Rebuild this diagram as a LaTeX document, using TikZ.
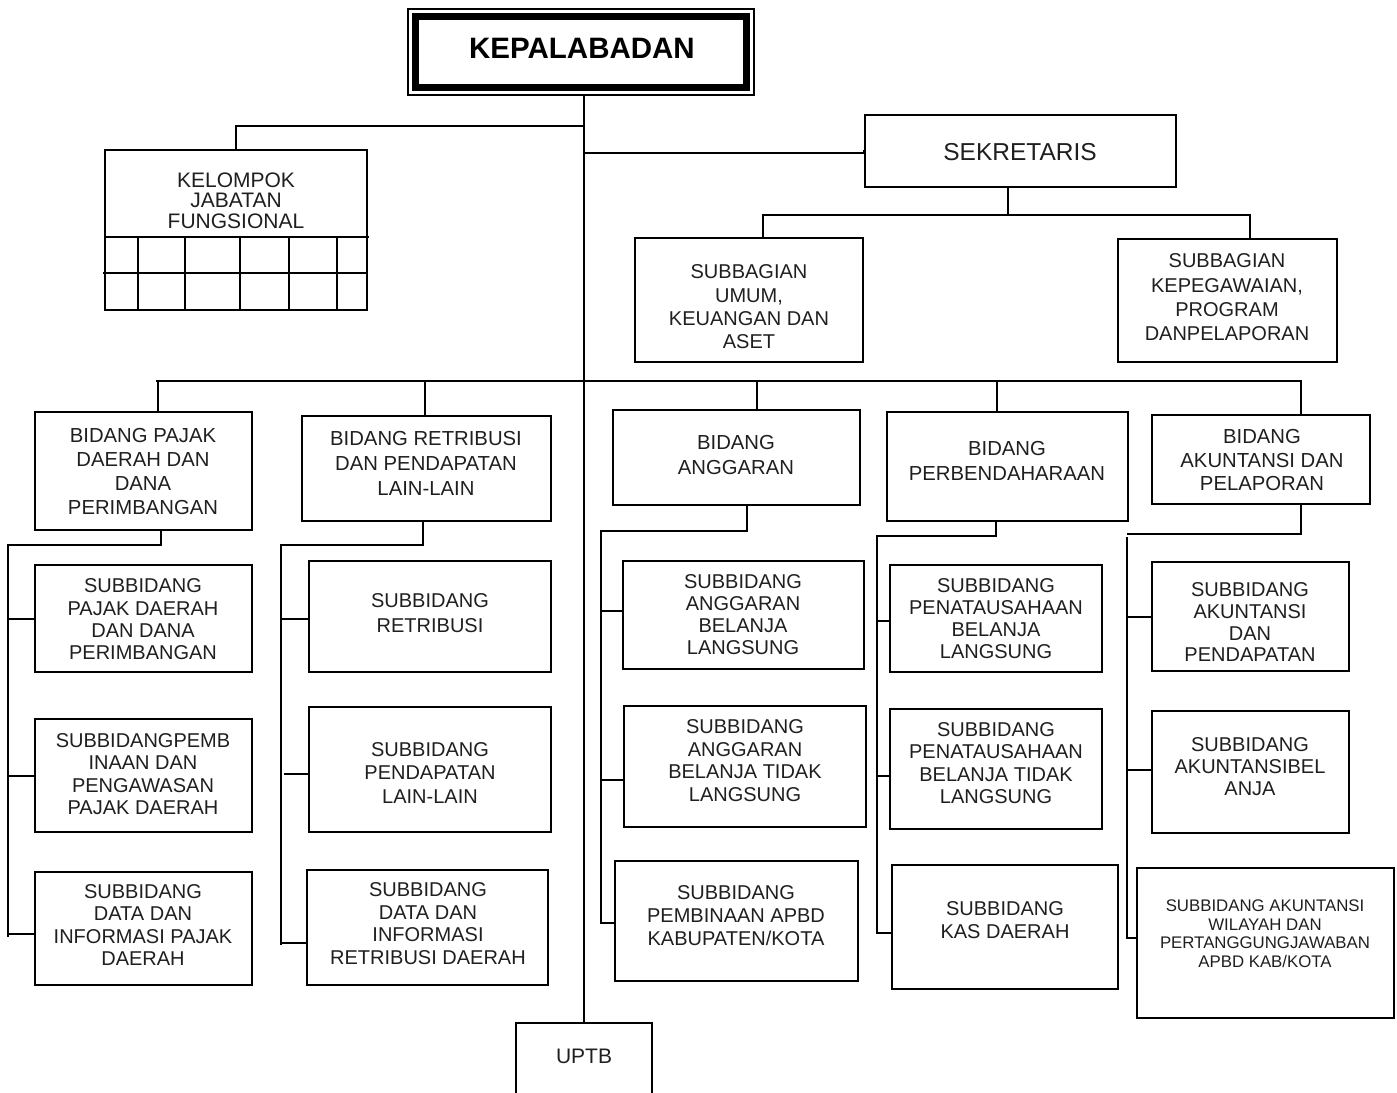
\documentclass[tikz,border=0pt]{standalone}
\usepackage{fontspec}
\setmainfont{Liberation Sans}
\tikzset{
  bx/.style={draw, line width=2pt, inner sep=0pt, rectangle},
  lbl/.style={align=center, inner sep=0pt, text=black!88},
  conn/.style={line width=2pt, line cap=rect},
}
% box: name, x1, y1, x2, y2
\newcommand\bx[5]{\node[bx, minimum width={(#4-#2)*1pt}, minimum height={(#5-#3)*1pt}] (#1) at ({(#2+#4)/2},{(#3+#5)/2}) {};}
% label: name, x, y, font+spacing, text
\newcommand\lb[5]{\node[lbl, font={#4}] (#1) at (#2,#3) {#5};}
\newcommand\fs[2]{\fontsize{#1}{#2}\selectfont}
\begin{document}
\begin{tikzpicture}[x=1pt,y=-1pt]
\useasboundingbox (0,0) rectangle (1397,1092);

% ---- top ----
\node[draw, line width=1.5pt, inner sep=0pt, minimum width=346pt, minimum height=86pt] (kepala) at (581,52) {};
\draw[line width=7pt] ([shift={(8,8)}]kepala.north west) rectangle ([shift={(-8,-8)}]kepala.south east);
\node[align=center, inner sep=0pt, font=\fs{29.5}{31}\bfseries] (lkepala) at (582,48) {KEPALABADAN};

\bx{kel}{105}{150}{367}{310}
\lb{lkel}{236}{200.5}{\fs{21}{20.5}}{KELOMPOK\\JABATAN\\FUNGSIONAL}
\draw[line width=1.6pt] (105,237) -- (369,237);
\draw[line width=1.6pt] (103,273) -- (367,273);
\foreach \gx in {138,185,240,289,337} \draw[line width=1.6pt] (\gx,237) -- (\gx,310);

\bx{sek}{865}{115}{1176}{187}
\lb{lsek}{1020}{152}{\fs{24.5}{26}}{SEKRETARIS}

\bx{sbu}{635}{238}{863}{362}
\lb{lsbu}{749}{307}{\fs{20}{23.3}}{SUBBAGIAN\\UMUM,\\KEUANGAN DAN\\ASET}
\bx{sbk}{1118}{239}{1337}{362}
\lb{lsbk}{1227}{297.5}{\fs{20}{24.3}}{SUBBAGIAN\\KEPEGAWAIAN,\\PROGRAM\\DANPELAPORAN}

% ---- bidang ----
\bx{b1}{35}{412}{252}{530}
\lb{lb1}{143}{471.5}{\fs{20.3}{23.7}}{BIDANG PAJAK\\DAERAH DAN\\DANA\\PERIMBANGAN}
\bx{b2}{302}{416}{551}{521}
\lb{lb2}{426}{463}{\fs{20.3}{25}}{BIDANG RETRIBUSI\\DAN PENDAPATAN\\LAIN-LAIN}
\bx{b3}{613}{410}{860}{505}
\lb{lb3}{736}{455.5}{\fs{20.3}{25}}{BIDANG\\ANGGARAN}
\bx{b4}{887}{412}{1128}{521}
\lb{lb4}{1007}{460.5}{\fs{20.3}{25}}{BIDANG\\PERBENDAHARAAN}
\bx{b5}{1152}{415}{1370}{504}
\lb{lb5}{1262}{460.5}{\fs{20.3}{23.5}}{BIDANG\\AKUNTANSI DAN\\PELAPORAN}

% ---- subbidang ----
\bx{s11}{35}{565}{252}{672}
\lb{ls11}{143}{619.3}{\fs{20}{22.3}}{SUBBIDANG\\PAJAK DAERAH\\DAN DANA\\PERIMBANGAN}
\bx{s12}{35}{719}{252}{832}
\lb{ls12}{143}{774}{\fs{20}{22.3}}{SUBBIDANGPEMB\\INAAN DAN\\PENGAWASAN\\PAJAK DAERAH}
\bx{s13}{35}{872}{252}{985}
\lb{ls13}{143}{925}{\fs{20}{22.3}}{SUBBIDANG\\DATA DAN\\INFORMASI PAJAK\\DAERAH}

\bx{s21}{309}{561}{551}{672}
\lb{ls21}{430}{613.5}{\fs{20}{25}}{SUBBIDANG\\RETRIBUSI}
\bx{s22}{309}{707}{551}{832}
\lb{ls22}{430}{773}{\fs{20}{23.5}}{SUBBIDANG\\PENDAPATAN\\LAIN-LAIN}
\bx{s23}{307}{870}{548}{985}
\lb{ls23}{428}{923.5}{\fs{20}{22.7}}{SUBBIDANG\\DATA DAN\\INFORMASI\\RETRIBUSI DAERAH}

\bx{s31}{623}{561}{864}{669}
\lb{ls31}{743}{615}{\fs{20}{22}}{SUBBIDANG\\ANGGARAN\\BELANJA\\LANGSUNG}
\bx{s32}{624}{706}{866}{827}
\lb{ls32}{745}{760.75}{\fs{20}{22.7}}{SUBBIDANG\\ANGGARAN\\BELANJA TIDAK\\LANGSUNG}
\bx{s33}{615}{861}{858}{981}
\lb{ls33}{736}{916}{\fs{20}{23}}{SUBBIDANG\\PEMBINAAN APBD\\KABUPATEN/KOTA}

\bx{s41}{890}{565}{1102}{672}
\lb{ls41}{996}{618.25}{\fs{20}{22}}{SUBBIDANG\\PENATAUSAHAAN\\BELANJA\\LANGSUNG}
\bx{s42}{890}{709}{1102}{829}
\lb{ls42}{996}{763.25}{\fs{20}{22.3}}{SUBBIDANG\\PENATAUSAHAAN\\BELANJA TIDAK\\LANGSUNG}
\bx{s43}{892}{865}{1118}{989}
\lb{ls43}{1005}{920.5}{\fs{20}{23}}{SUBBIDANG\\KAS DAERAH}

\bx{s51}{1152}{562}{1349}{671}
\lb{ls51}{1250}{622.25}{\fs{20}{21.7}}{SUBBIDANG\\AKUNTANSI\\DAN\\PENDAPATAN}
\bx{s52}{1152}{711}{1349}{833}
\lb{ls52}{1250}{767}{\fs{20}{22}}{SUBBIDANG\\AKUNTANSIBEL\\ANJA}
\bx{s53}{1137}{868}{1394}{1018}
\lb{ls53}{1265}{933.5}{\fs{16.8}{18.5}}{SUBBIDANG AKUNTANSI\\WILAYAH DAN\\PERTANGGUNGJAWABAN\\APBD KAB/KOTA}

\bx{uptb}{516}{1023}{652}{1095}
\lb{luptb}{584}{1056}{\fs{21}{23}}{UPTB}

% ---- connectors ----
\coordinate (ma) at (584,126);
\coordinate (mb) at (584,153);
\coordinate (bus) at (157,381);
\coordinate (busr) at (1301,381);
\draw[conn] (kepala.south -| uptb.north) -- (uptb.north);
\draw[conn] (ma) -- (ma -| kel.north) -- (kel.north);
\draw[conn] (mb) -- (mb -| sek.west) -- (sek.west);

\coordinate (sj) at (1008,215);
\draw[conn] (sj |- sek.south) -- (sj);
\coordinate (sl) at (763,215);
\coordinate (sr) at (1250,215);
\draw[conn] (sl) -- (sr);
\draw[conn] (sl) -- (sl |- sbu.north);
\draw[conn] (sr) -- (sr |- sbk.north);

\draw[conn] (bus) -- (busr);
\coordinate (t1) at (158,381);
\coordinate (t2) at (425,381);
\coordinate (t3) at (757,381);
\coordinate (t4) at (997,381);
\draw[conn] (t1) -- (t1 |- b1.north);
\draw[conn] (t2) -- (t2 |- b2.north);
\draw[conn] (t3) -- (t3 |- b3.north);
\draw[conn] (t4) -- (t4 |- b4.north);
\draw[conn] (busr) -- (busr |- b5.north);

% column 1
\coordinate (c1a) at (161,545);
\coordinate (c1b) at (8,545);
\coordinate (c1c) at (8,936);
\draw[conn] (c1a |- b1.south) -- (c1a) -- (c1b) -- (c1c);
\draw[conn] (c1b |- s11.west) -- (s11.west);
\draw[conn] (c1b |- s12.west) -- (s12.west);
\draw[conn] (8,934) -- (8,934 -| s13.west);
% column 2
\coordinate (c2a) at (423,545);
\coordinate (c2b) at (281,545);
\coordinate (c2c) at (281,944);
\draw[conn] (c2a |- b2.south) -- (c2a) -- (c2b) -- (c2c);
\draw[conn] (281,619) -- (281,619 -| s21.west);
\draw[conn] (285,774) -- (285,774 -| s22.west);
\draw[conn] (281,943) -- (281,943 -| s23.west);
% column 3
\coordinate (c3a) at (747,531);
\coordinate (c3b) at (601,531);
\coordinate (c3c) at (601,923);
\draw[conn] (c3a |- b3.south) -- (c3a) -- (c3b) -- (c3c);
\draw[conn] (601,611) -- (601,611 -| s31.west);
\draw[conn] (601,780) -- (601,780 -| s32.west);
\draw[conn] (601,923) -- (601,923 -| s33.west);
% column 4
\coordinate (c4a) at (996,536);
\coordinate (c4b) at (877,536);
\coordinate (c4c) at (877,933);
\draw[conn] (c4a |- b4.south) -- (c4a) -- (c4b) -- (c4c);
\draw[conn] (877,621) -- (877,621 -| s41.west);
\draw[conn] (877,776) -- (877,776 -| s42.west);
\draw[conn] (877,933) -- (877,933 -| s43.west);
% column 5
\coordinate (c5a) at (1301,534);
\coordinate (c5b) at (1128,534);
\coordinate (c5c) at (1127,538);
\coordinate (c5d) at (1127,938);
\draw[conn] (c5a |- b5.south) -- (c5a) -- (c5b);
\draw[conn] (c5c) -- (c5d);
\draw[conn] (1127,617) -- (1127,617 -| s51.west);
\draw[conn] (1127,770) -- (1127,770 -| s52.west);
\draw[conn] (1127,938) -- (1127,938 -| s53.west);
\end{tikzpicture}
\end{document}
